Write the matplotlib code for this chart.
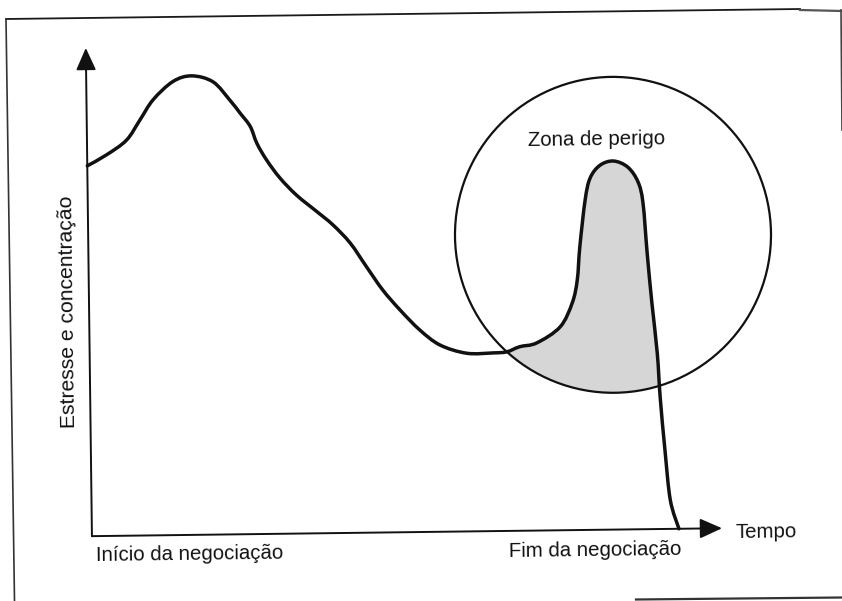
import numpy as np
import matplotlib
matplotlib.use('Agg')
import matplotlib.pyplot as plt
import matplotlib.transforms as mtransforms
from matplotlib.patches import Ellipse, FancyArrowPatch, PathPatch
from matplotlib.lines import Line2D
from matplotlib.path import Path

# curva (tempo 0-100 = inicio..fim, estresse 0-100)
tempo = [0, 3.3, 6.7, 9.0, 11.3, 14.7, 17.9, 21.5, 24.3, 26.0,
         27.7, 28.8, 30.4, 32.6, 35.4, 38.8, 41.5, 44.4, 47.1, 49.8,
         52.7, 56.0, 59.4, 63.9, 68.4, 70.7, 72.9, 75.8, 79.8, 81.9,
         82.8, 83.3, 84.3, 85.2, 86.9, 89.2, 91.6, 93.3, 94.1, 94.7,
         95.4, 96.2, 96.6, 97.3, 98.1, 99.5]
estresse = [82.3, 84.7, 87.9, 92.3, 96.8, 100.8, 102.0, 100.6, 96.5, 93.6,
            90.6, 86.8, 83.1, 79.1, 75.2, 71.5, 68.5, 64.4, 59.1, 53.9,
            49.4, 44.9, 41.5, 39.6, 39.6, 39.8, 40.9, 41.7, 45.2, 50.5,
            55.6, 62.9, 73.3, 78.2, 81.0, 81.9, 80.5, 77.2, 72.5, 61.4,
            50.2, 39.1, 29.3, 17.5, 6.4, 0]

# zona de perigo (centro e diametros nas unidades do grafico)
zona_centro = (88.95, 65.5)
zona_largura = 53.56
zona_altura = 70.2

titulo_zona = 'Zona de perigo'
rotulo_y = 'Estresse e concentração'
rotulo_x = 'Tempo'
rotulo_inicio = 'Início da negociação'
rotulo_fim = 'Fim da negociação'

fig = plt.figure(figsize=(8.42, 6.01), dpi=100)
ax = fig.add_axes([0, 0, 1, 1])
ax.set_xlim(-15.085, 127.627)
ax.set_ylim(-15.333, 118.222)
ax.axis('off')

# a folha foi escaneada um pouco torta
ang = 0.72
giro = mtransforms.Affine2D().rotate_deg_around(421, 300.5, ang)
tr = ax.transData + giro

# moldura (so os pedacos que aparecem no scan), em pixels da imagem
def traco(xs, ys, **k):
    fig.add_artist(Line2D(xs, [601 - y for y in ys],
                          transform=mtransforms.IdentityTransform(), **k))

traco([6, 800], [19, 9], lw=1.3, color='#1a1a1a')
traco([800, 842], [10, 11], lw=1.6, color='#555555')
traco([6, 14.5], [19, 601], lw=1.2, color='#333333')
traco([841, 842], [10, 130], lw=1.2, color='#444444')
traco([636, 842], [599.5, 597.5], lw=1.6, color='#333333')

# curva suave passando pelos pontos lidos
pts = np.column_stack([tempo, estresse])
ext = np.vstack([pts[0], pts, pts[-1]])
verts = [pts[0]]
codes = [Path.MOVETO]
for i in range(len(pts) - 1):
    p0, p1, p2, p3 = ext[i], ext[i + 1], ext[i + 2], ext[i + 3]
    verts += [p1 + (p2 - p0) / 6, p2 - (p3 - p1) / 6, p2]
    codes += [Path.CURVE4] * 3
curva = Path(verts, codes)
area = Path(verts + [(tempo[-1], -10), (tempo[0], -10), pts[0]],
            codes + [Path.LINETO, Path.LINETO, Path.CLOSEPOLY])

# circulo e sombra
zona = Ellipse(zona_centro, zona_largura, zona_altura, transform=tr,
               fill=False, lw=1.6, ec='#111111', zorder=3)
ax.add_patch(zona)
sombra = PathPatch(area, transform=tr, fc='#d6d6d6', lw=0, zorder=1)
ax.add_patch(sombra)
sombra.set_clip_path(zona)

# eixos com setas
for fim in [(0, 108.5), (106.8, 0)]:
    seta = FancyArrowPatch((0, 0), fim, transform=tr,
                           arrowstyle='-|>,head_length=0.4,head_width=0.18',
                           mutation_scale=34, lw=1.4, color='#111111',
                           shrinkA=0, shrinkB=0, zorder=4)
    ax.add_patch(seta)

ax.add_patch(PathPatch(curva, transform=tr, fill=False, ec='#111111',
                       lw=2.5, joinstyle='round', capstyle='round', zorder=5))

kw = dict(transform=tr, rotation_mode='anchor', color='#111111',
          family=['Liberation Sans', 'DejaVu Sans'])
ax.text(86.3, 85.5, titulo_zona, ha='center', va='baseline', rotation=ang,
        fontsize=14.7, **kw)
ax.text(0.6, -5.5, rotulo_inicio, ha='left', va='baseline', rotation=ang,
        fontsize=14.7, **kw)
ax.text(99.9, -5.85, rotulo_fim, ha='right', va='baseline', rotation=ang,
        fontsize=14.7, **kw)
ax.text(109.0, -2.27, rotulo_x, ha='left', va='baseline', rotation=ang,
        fontsize=14.7, **kw)
ax.text(-2.7, 49.9, rotulo_y, ha='center', va='baseline', rotation=90 + ang,
        fontsize=15.2, **kw)

fig.savefig('out.png', dpi=100)
